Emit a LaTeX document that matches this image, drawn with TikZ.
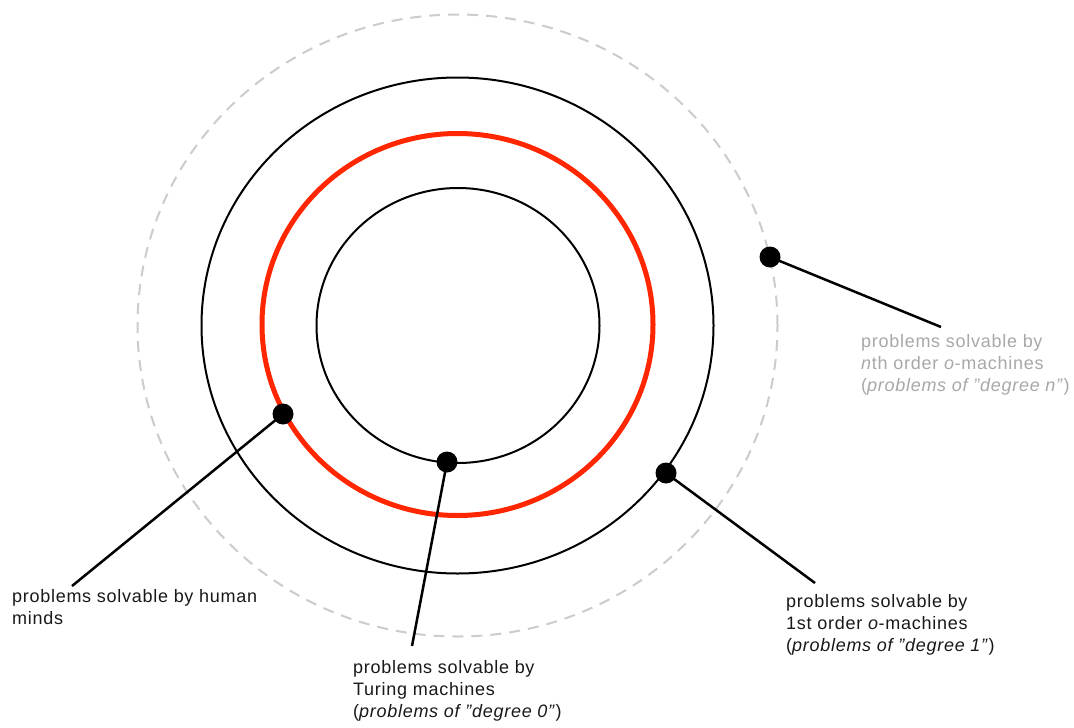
\documentclass[tikz,border=0pt]{standalone}
\usepackage{fontspec}
\setmainfont{Liberation Sans}[LetterSpace=4]
\usetikzlibrary{shapes.geometric}
\definecolor{ringred}{RGB}{255,38,0}
\definecolor{dashgray}{RGB}{204,204,204}
\definecolor{labelgray}{RGB}{168,168,168}
\definecolor{ink}{RGB}{25,25,25}
\newcommand\dq{\symbol{34}}
\tikzset{
  ring/.style={draw=black, line width=2pt, ellipse, inner sep=0pt, fill=none},
  redring/.style={draw=ringred, line width=5pt, ellipse, inner sep=0pt},
  dashring/.style={draw=dashgray, line width=2pt, ellipse, inner sep=0pt, dash pattern=on 11pt off 8pt},
  dot/.style={circle, fill=black, inner sep=0pt, minimum size=21pt},
  leader/.style={draw=black, line width=2.5pt},
  lbl/.style={anchor=base west, align=left, inner sep=0pt, font=\fontsize{18}{21.8}\selectfont, text=ink},
}
\begin{document}
\begin{tikzpicture}[x=1pt,y=-1pt]
\useasboundingbox (0,0) rectangle (1074,728);
\fill[white] (0,0) rectangle (1074,728);
% rings
\node[dashring, minimum width=640pt, minimum height=622pt] (nring) at (457.5,325.5) {};
\node[ring, minimum width=512pt, minimum height=496pt] (oring) at (457.5,325.5) {};
\node[redring, minimum width=391pt, minimum height=382pt] (hring) at (457.5,324.5) {};
\node[ring, minimum width=283pt, minimum height=275pt] (tring) at (458,325.5) {};
% dots
\node[dot] (dh) at (283,414) {};
\node[dot] (dt) at (447,462) {};
\node[dot] (d1) at (666,473) {};
\node[dot] (dn) at (770,257) {};
% leader ends
\coordinate (eh) at (72,586);
\coordinate (et) at (412,646);
\coordinate (e1) at (815,583);
\coordinate (en) at (941,327);
\draw[leader] (dh.center) -- (eh);
\draw[leader] (dt.center) -- (et);
\draw[leader] (d1.center) -- (e1);
\draw[leader] (dn.center) -- (en);
% labels (anchored at the baseline of the last line)
\node[lbl] (lh) at (12,624) {problems solvable by human\\minds};
\node[lbl] (lt) at (353,717) {problems solvable by\\Turing machines\\(\textit{problems of \dq degree 0\dq})};
\node[lbl] (l1) at (786,651) {problems solvable by\\1st order \textit{o}-machines\\(\textit{problems of \dq degree 1\dq})};
\node[lbl, text=labelgray] (ln) at (861,391) {problems solvable by\\\textit{n}th order \textit{o}-machines\\(\textit{problems of \dq degree n\dq})};
\end{tikzpicture}
\end{document}
